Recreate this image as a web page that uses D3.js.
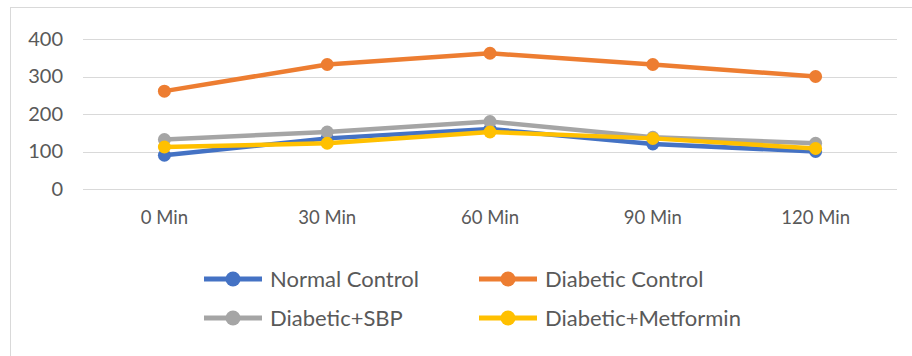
<!DOCTYPE html>
<html>
<head>
<meta charset="utf-8">
<script src="https://cdn.jsdelivr.net/npm/d3@7"></script>
<style>
  html, body { margin: 0; padding: 0; background: #fff; overflow: hidden; }
  svg { display: block; }
  text { font-family: Lato, "Open Sans", sans-serif; fill: #595959; }
</style>
</head>
<body>
<svg id="chart" width="912" height="356"></svg>
<script>
// Time points after glucose load
const categories = ["0 Min", "30 Min", "60 Min", "90 Min", "120 Min"];

// Blood glucose (mg/dL) per group
const normalControl     = [90, 135, 160, 120, 100];
const diabeticControl   = [261, 332, 362, 332, 300];
const diabeticSBP       = [132, 152, 180, 138, 122];
const diabeticMetformin = [112, 122, 152, 135, 108];

const yTicks = [0, 100, 200, 300, 400];

const seriesNames  = ["Normal Control", "Diabetic Control", "Diabetic+SBP", "Diabetic+Metformin"];
const seriesValues = [normalControl, diabeticControl, diabeticSBP, diabeticMetformin];
const seriesColors = ["#4472C4", "#ED7D31", "#A5A5A5", "#FFC000"];

const svg = d3.select("#chart");

// Outer chart frame (continues past the right and bottom edges)
svg.append("rect")
  .attr("x", 10.5).attr("y", 7.5)
  .attr("width", 920).attr("height", 380)
  .attr("fill", "#fff").attr("stroke", "#d9d9d9");

const plot = { left: 83, right: 897, top: 39, bottom: 189 };

const x = d3.scaleBand().domain(categories).range([plot.left, plot.right]);
const y = d3.scaleLinear().domain([0, 400]).range([plot.bottom, plot.top]);

// Horizontal gridlines
svg.append("g")
  .selectAll("line")
  .data(yTicks)
  .join("line")
  .attr("x1", plot.left).attr("x2", plot.right)
  .attr("y1", d => Math.round(y(d)) + 0.5).attr("y2", d => Math.round(y(d)) + 0.5)
  .attr("stroke", "#d9d9d9").attr("stroke-width", 1);

// Y axis labels
const yAxis = d3.axisLeft(y).tickValues(yTicks).tickSize(0).tickPadding(0);
svg.append("g")
  .attr("transform", `translate(${plot.left - 20},0)`)
  .call(yAxis)
  .call(g => g.select(".domain").remove())
  .call(g => g.selectAll("text").attr("font-size", 20).attr("fill", "#595959")
    .style("font-family", "Lato, sans-serif"));

// X axis labels
const xAxis = d3.axisBottom(x).tickSize(0).tickPadding(0);
svg.append("g")
  .attr("transform", `translate(0,${plot.bottom + 22})`)
  .call(xAxis)
  .call(g => g.select(".domain").remove())
  .call(g => g.selectAll("text").attr("font-size", 18.5).attr("fill", "#595959")
    .style("font-family", "Lato, sans-serif"));

// Series lines and markers
const line = d3.line()
  .x((d, i) => x(categories[i]) + x.bandwidth() / 2)
  .y(d => y(d));

seriesValues.forEach((vals, si) => {
  const g = svg.append("g");
  g.append("path")
    .datum(vals)
    .attr("d", line)
    .attr("fill", "none")
    .attr("stroke", seriesColors[si])
    .attr("stroke-width", 4.5)
    .attr("stroke-linejoin", "round");
  g.selectAll("circle")
    .data(vals)
    .join("circle")
    .attr("cx", (d, i) => x(categories[i]) + x.bandwidth() / 2)
    .attr("cy", d => y(d))
    .attr("r", 6.5)
    .attr("fill", seriesColors[si]);
});

// Legend (2 x 2)
const legendPos = [
  { x: 204, y: 279 }, { x: 479, y: 279 },
  { x: 204, y: 318 }, { x: 479, y: 318 }
];
const legend = svg.append("g")
  .selectAll("g")
  .data(seriesNames)
  .join("g")
  .attr("transform", (d, i) => `translate(${legendPos[i].x},${legendPos[i].y})`);

legend.append("line")
  .attr("x1", 0).attr("x2", 58).attr("y1", 0).attr("y2", 0)
  .attr("stroke", (d, i) => seriesColors[i]).attr("stroke-width", 5);
legend.append("circle")
  .attr("cx", 29).attr("cy", 0).attr("r", 7.5)
  .attr("fill", (d, i) => seriesColors[i]);
legend.append("text")
  .attr("x", 66).attr("y", 0).attr("dy", "0.35em")
  .attr("font-size", 22)
  .text(d => d);
</script>
</body>
</html>
